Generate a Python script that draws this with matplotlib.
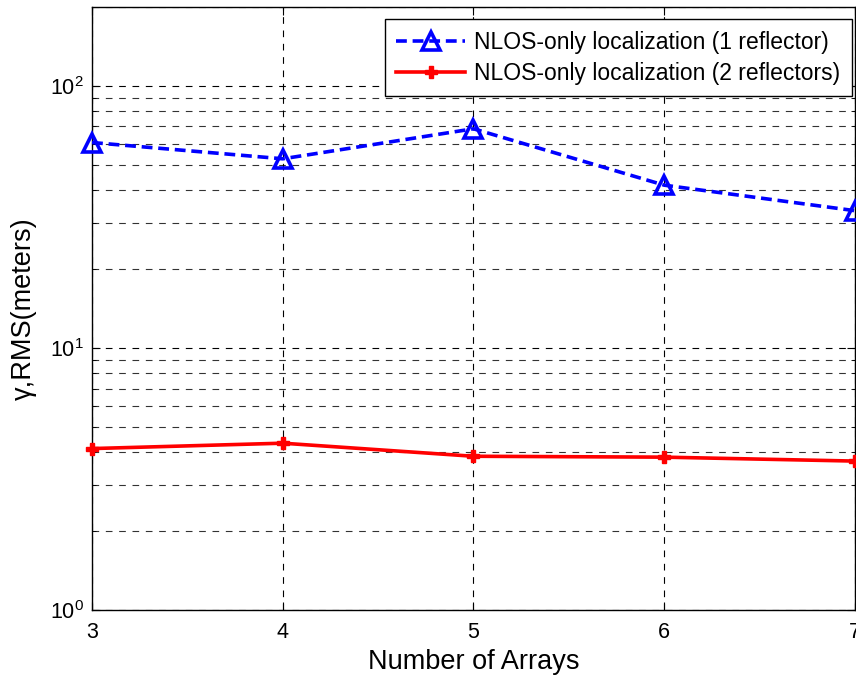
import math
import matplotlib
matplotlib.use("Agg")
import matplotlib.pyplot as plt
from matplotlib.ticker import LogLocator, FixedLocator, FuncFormatter, NullFormatter

plt.rcParams['font.family'] = ['Liberation Sans', 'DejaVu Sans']
plt.rcParams['mathtext.fontset'] = 'custom'
plt.rcParams['mathtext.rm'] = 'Liberation Sans'
plt.rcParams['mathtext.it'] = 'Liberation Sans:italic'

arrays = [3, 4, 5, 6, 7]
one_reflector = [60.8, 52.7, 68.6, 41.8, 33.4]
two_reflectors = [4.13, 4.33, 3.86, 3.83, 3.70]
label_one = 'NLOS-only localization (1 reflector)'
label_two = 'NLOS-only localization (2 reflectors)'

fig = plt.figure(figsize=(8.56, 6.81), dpi=100)
ax = fig.add_axes([0.1075, 0.1043, 0.8913, 0.8854])

ax.plot(arrays, one_reflector, color='#0000ff', linestyle=(0, (3, 1.6)), linewidth=2.6,
        marker='^', markersize=13, markerfacecolor='none', markeredgewidth=2.6,
        label=label_one, clip_on=False, zorder=3)
ax.plot(arrays, two_reflectors, color='#ff0000', linestyle='-', linewidth=2.6,
        marker='P', markersize=8, markeredgewidth=1,
        label=label_two, clip_on=False, zorder=3)

ax.set_yscale('log')
ax.set_xlim(3, 7)
ax.set_ylim(1, 200)
ax.xaxis.set_major_locator(FixedLocator(arrays))
ax.yaxis.set_major_locator(LogLocator(base=10, numticks=10))
ax.yaxis.set_minor_locator(LogLocator(base=10, subs=range(2, 10), numticks=30))
ax.yaxis.set_minor_formatter(NullFormatter())
ax.yaxis.set_major_formatter(FuncFormatter(lambda v, p: r'$10^{%d}$' % round(math.log10(v))))

ax.grid(True, which='major', axis='both', color='black', linestyle=(0, (6, 6)), linewidth=0.8)
ax.grid(True, which='minor', axis='y', color='black', linestyle=(0, (6, 6)), linewidth=0.8, alpha=0.8)

ax.tick_params(axis='both', which='both', direction='in', top=True, right=True, labelsize=15.5)
ax.tick_params(axis='both', which='major', length=6)
ax.tick_params(axis='y', which='minor', length=3)
ax.tick_params(axis='x', pad=9)
ax.tick_params(axis='y', pad=6)

for s in ax.spines.values():
    s.set_linewidth(1.0)

ax.set_xlabel('Number of Arrays', fontsize=19.5, labelpad=4)
ax.set_ylabel('γ,RMS(meters)', fontsize=19.5, labelpad=9)

leg = ax.legend(loc='upper right', bbox_to_anchor=(0.996, 0.98), borderaxespad=0,
                fontsize=16.5, fancybox=False, edgecolor='black', framealpha=1,
                handlelength=3.0, borderpad=0.5, labelspacing=0.35, handletextpad=0.4)
leg.get_frame().set_linewidth(1.0)

fig.savefig('out.png', dpi=100)
